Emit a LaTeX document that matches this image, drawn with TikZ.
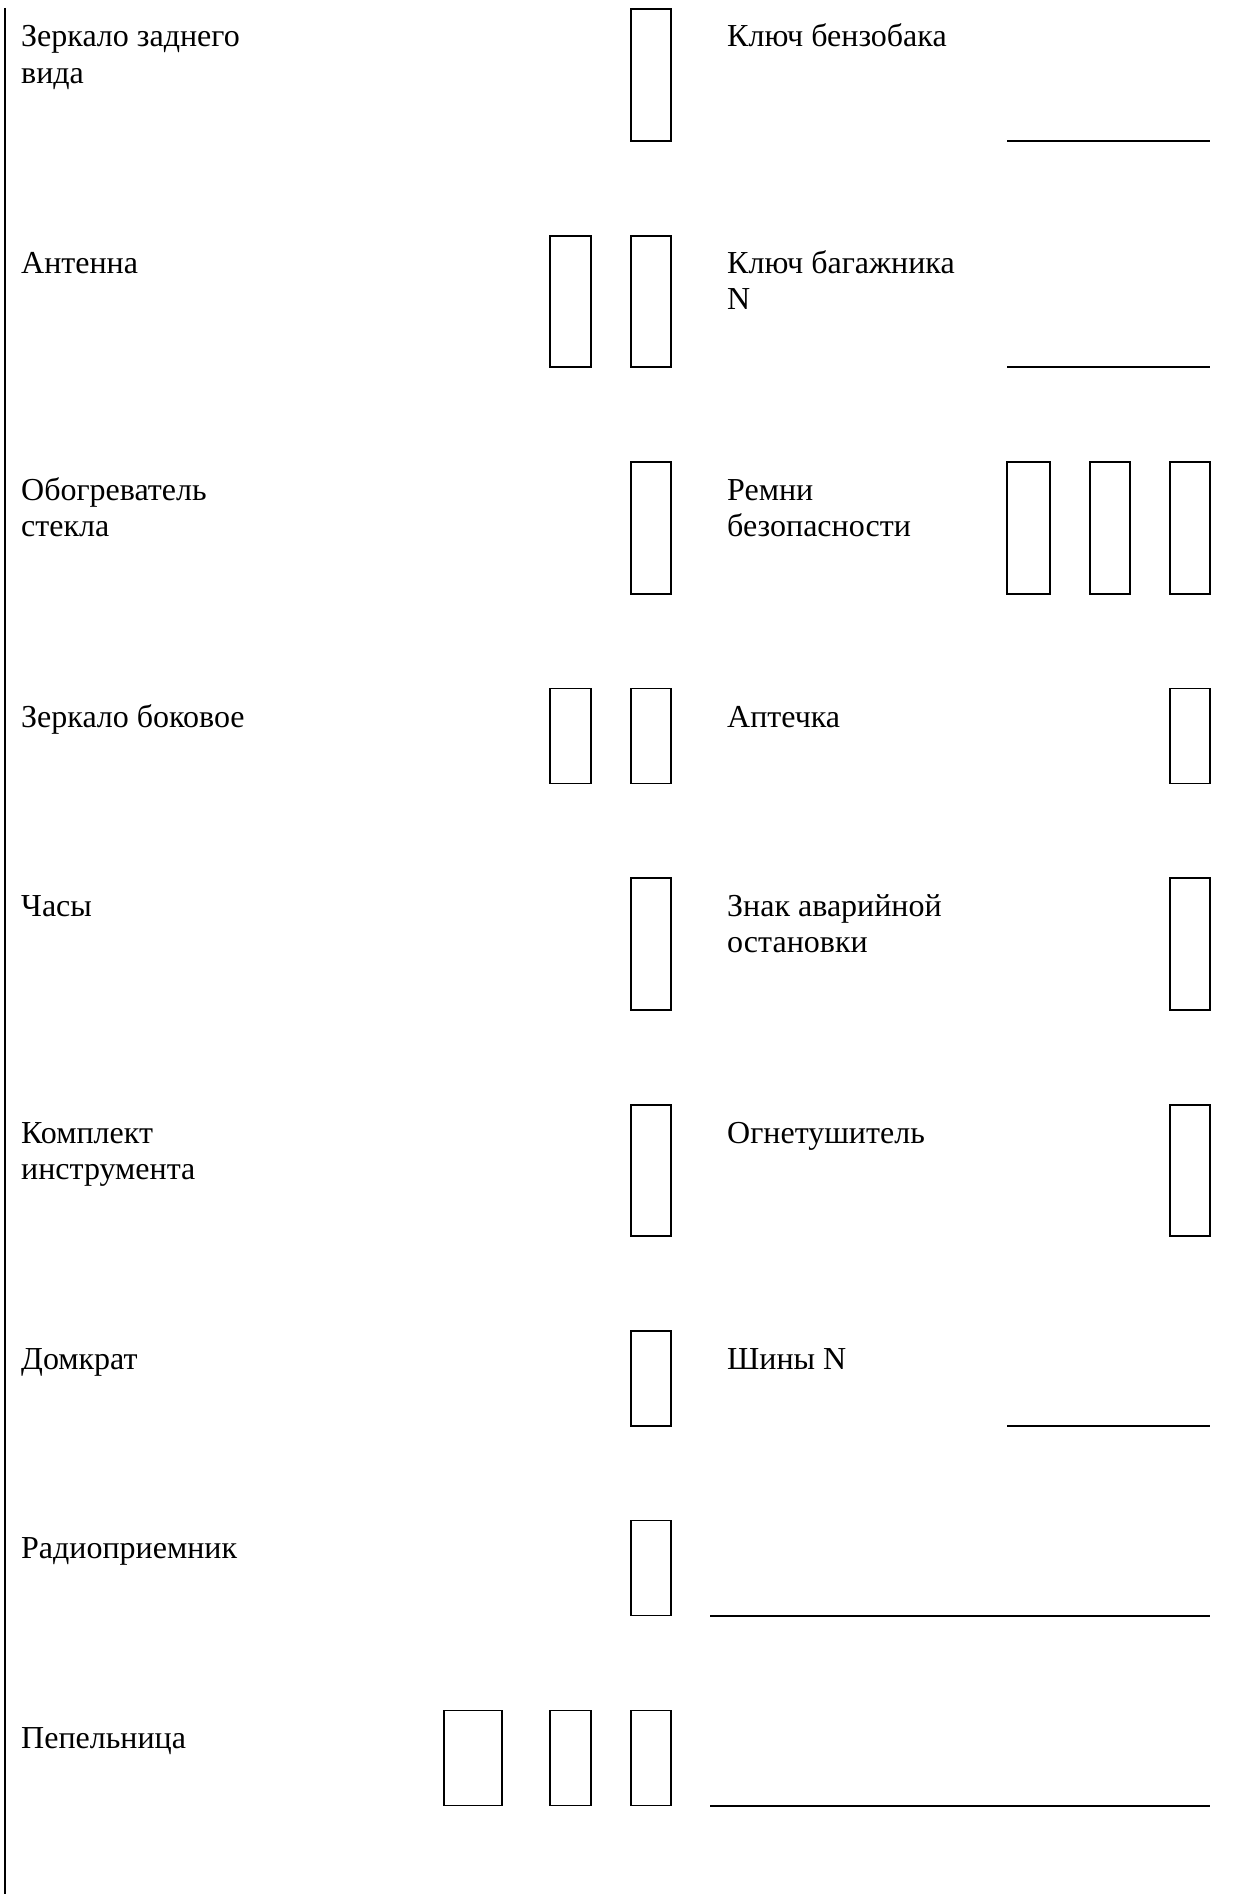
\documentclass[tikz,border=0pt]{standalone}
\usepackage{fontspec}
\setmainfont{Liberation Serif}
\begin{document}
\begin{tikzpicture}[x=1pt,y=-1pt,
  lbl/.style={anchor=base west,inner sep=0pt,align=left,font=\fontsize{32}{36.5}\selectfont},
  two/.style={yshift=-36.5pt},
  bx/.style={draw,line width=1.7pt,rectangle,inner sep=0pt,minimum width=40pt},
  tall/.style={minimum height=131.5pt},
  short/.style={minimum height=95pt},
  rule/.style={line width=1.7pt}]
\useasboundingbox (0,0) rectangle (1238,1894);
% left margin line
\coordinate (lt) at (5,8);
\coordinate (lb) at (5,1894);
\draw[rule] (lt) -- (lb);
% left labels
\node[lbl,two] (l1) at (21,47) {Зеркало заднего\\вида};
\node[lbl] (l2) at (21,273) {Антенна};
\node[lbl,two] (l3) at (21,500) {Обогреватель\\стекла};
\node[lbl] (l4) at (21,727) {Зеркало боковое};
\node[lbl] (l5) at (21,916) {Часы};
\node[lbl,two] (l6) at (21,1143) {Комплект\\инструмента};
\node[lbl] (l7) at (21,1369) {Домкрат};
\node[lbl] (l8) at (21,1558) {Радиоприемник};
\node[lbl] (l9) at (21,1748) {Пепельница};
% right labels
\node[lbl] (r1) at (727,47) {Ключ бензобака};
\node[lbl,two] (r2) at (727,273) {Ключ багажника\\N};
\node[lbl,two] (r3) at (727,500) {Ремни\\безопасности};
\node[lbl] (r4) at (727,727) {Аптечка};
\node[lbl,two] (r5) at (727,916) {Знак аварийной\\остановки};
\node[lbl] (r6) at (727,1143) {Огнетушитель};
\node[lbl] (r7) at (727,1369) {Шины N};
% boxes, column A
\node[bx,tall] (a1) at (651,75) {};
\node[bx,tall] (a2) at (651,301.5) {};
\node[bx,tall] (a3) at (651,528) {};
\node[bx,short] (a4) at (651,736) {};
\node[bx,tall] (a5) at (651,944) {};
\node[bx,tall] (a6) at (651,1170.5) {};
\node[bx,short] (a7) at (651,1378.5) {};
\node[bx,short] (a8) at (651,1568) {};
\node[bx,short] (a9) at (651,1758) {};
% column B
\node[bx,tall,minimum width=41pt] (b2) at (570.5,301.5) {};
\node[bx,short,minimum width=41pt] (b4) at (570.5,736) {};
\node[bx,short,minimum width=41pt] (b9) at (570.5,1758) {};
% column C
\node[bx,short,minimum width=58pt] (c9) at (473,1758) {};
% right boxes
\node[bx,tall,minimum width=43pt] (p3) at (1028.5,528) {};
\node[bx,tall] (q3) at (1110,528) {};
\node[bx,tall] (s3) at (1190,528) {};
\node[bx,short] (s4) at (1190,736) {};
\node[bx,tall] (s5) at (1190,944) {};
\node[bx,tall] (s6) at (1190,1170.5) {};
% blank lines
\coordinate (u1a) at (1007,141);  \coordinate (u1b) at (1210,141);
\coordinate (u2a) at (1007,367);  \coordinate (u2b) at (1210,367);
\coordinate (u7a) at (1007,1426); \coordinate (u7b) at (1210,1426);
\coordinate (u8a) at (710,1616);  \coordinate (u8b) at (1210,1616);
\coordinate (u9a) at (710,1806);  \coordinate (u9b) at (1210,1806);
\draw[rule] (u1a) -- (u1b);
\draw[rule] (u2a) -- (u2b);
\draw[rule] (u7a) -- (u7b);
\draw[rule] (u8a) -- (u8b);
\draw[rule] (u9a) -- (u9b);
\end{tikzpicture}
\end{document}
